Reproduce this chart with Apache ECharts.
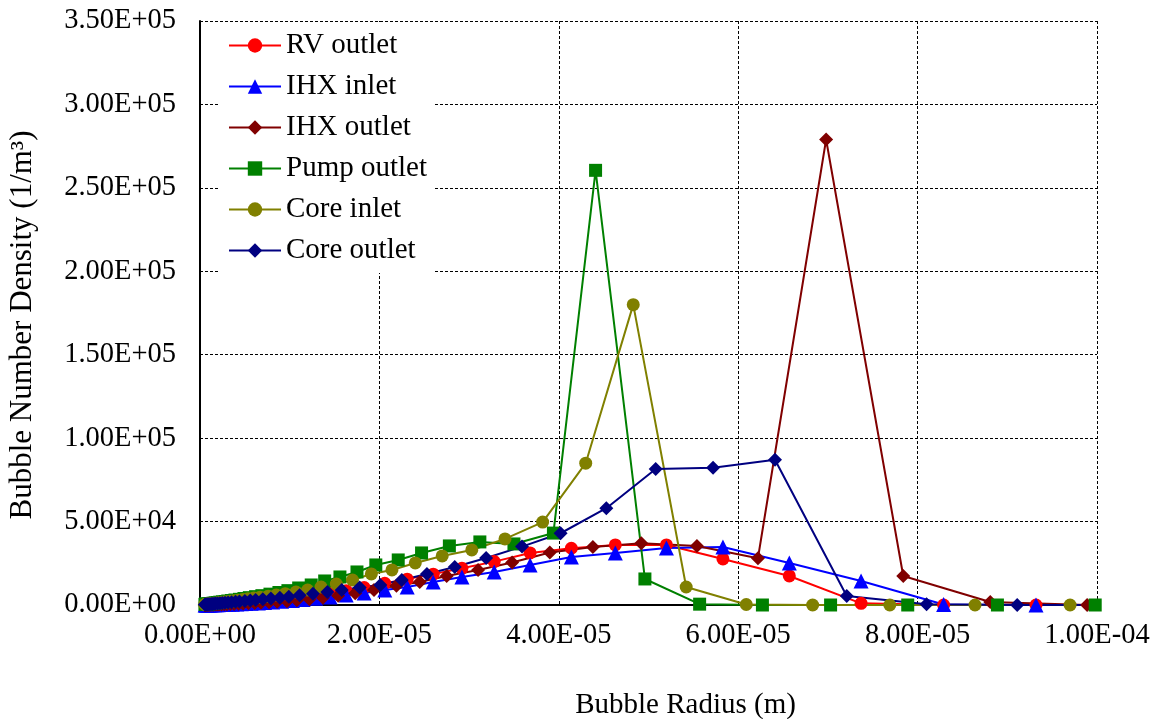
<!DOCTYPE html>
<html><head><meta charset="utf-8">
<script src="https://cdn.jsdelivr.net/npm/echarts@6/dist/echarts.min.js"></script>
<style>html,body{margin:0;padding:0;background:#fff}#c{width:1159px;height:719px}</style>
</head><body><div id="c"></div>
<script>
// Bubble radius (m) and number density (1/m^3)
const rvR = [5.7e-7,6.4e-7,7.1e-7,8.0e-7,9.0e-7,1.01e-6,1.14e-6,1.27e-6,1.43e-6,1.61e-6,1.81e-6,2.03e-6,2.29e-6,2.56e-6,2.9e-6,3.2e-6,3.6e-6,4.1e-6,4.6e-6,5.1e-6,5.7e-6,6.5e-6,7.2e-6,8.1e-6,9.1e-6,1.03e-5,1.15e-5,1.29e-5,1.45e-5,1.63e-5,1.83e-5,2.06e-5,2.31e-5,2.60e-5,2.92e-5,3.28e-5,3.68e-5,4.14e-5,4.63e-5,5.20e-5,5.83e-5,6.57e-5,7.37e-5,8.29e-5,9.32e-5];
const rvOutlet = [50,58,68,80,95,110,130,155,185,220,260,310,370,440,520,620,740,880,1050,1250,1500,1800,2150,2600,3100,3800,4600,5600,6900,8500,10500,13000,15500,18500,22000,26000,31200,34000,36000,36000,27600,17400,1000,0,0];
const ihxInR = rvR;
const ihxInlet = [24,29,35,42,50,60,73,88,105,130,155,185,225,270,330,400,480,580,700,850,1030,1250,1500,1800,2200,2700,3300,4000,4800,6000,7200,9000,10800,13800,16800,19800,24000,28800,31200,34200,34800,25200,14400,300,0];
const ihxOutR = [5.2e-7,5.9e-7,6.7e-7,7.5e-7,8.4e-7,9.5e-7,1.06e-6,1.19e-6,1.34e-6,1.5e-6,1.69e-6,1.9e-6,2.12e-6,2.4e-6,2.7e-6,3.0e-6,3.4e-6,3.8e-6,4.3e-6,4.8e-6,5.4e-6,6.1e-6,6.8e-6,7.7e-6,8.6e-6,9.7e-6,1.08e-5,1.22e-5,1.37e-5,1.54e-5,1.73e-5,1.94e-5,2.19e-5,2.45e-5,2.75e-5,3.10e-5,3.48e-5,3.90e-5,4.38e-5,4.92e-5,5.54e-5,6.22e-5,6.98e-5,7.84e-5,8.81e-5,9.89e-5];
const ihxOutlet = [60,70,80,92,105,120,135,155,175,200,230,260,300,350,400,460,530,620,720,840,980,1150,1350,1600,1900,2300,2900,3500,4400,5500,7000,9000,11500,13800,17400,21000,25500,31500,34800,37000,35400,28000,279000,17400,1800,0];
const pumpR = [5.5e-7,6.2e-7,6.9e-7,7.8e-7,8.7e-7,9.8e-7,1.10e-6,1.24e-6,1.39e-6,1.56e-6,1.75e-6,1.96e-6,2.2e-6,2.5e-6,2.8e-6,3.1e-6,3.5e-6,3.9e-6,4.4e-6,4.9e-6,5.5e-6,6.2e-6,6.9e-6,7.8e-6,8.8e-6,9.8e-6,1.10e-5,1.24e-5,1.39e-5,1.56e-5,1.75e-5,1.96e-5,2.21e-5,2.47e-5,2.78e-5,3.12e-5,3.50e-5,3.94e-5,4.41e-5,4.96e-5,5.57e-5,6.27e-5,7.03e-5,7.89e-5,8.89e-5,9.98e-5];
const pumpOutlet = [390,440,490,550,620,700,800,900,1000,1150,1300,1500,1700,1900,2100,2400,2700,3000,3400,3900,4400,5000,5600,6500,7500,8600,10200,12000,14400,16800,19800,24000,27000,31200,35400,37800,36600,43100,260500,15600,500,0,0,0,0,0];
const coreInR = [5.3e-7,6.0e-7,6.7e-7,7.5e-7,8.4e-7,9.5e-7,1.06e-6,1.2e-6,1.34e-6,1.5e-6,1.7e-6,1.9e-6,2.13e-6,2.4e-6,2.7e-6,3.0e-6,3.4e-6,3.8e-6,4.25e-6,4.8e-6,5.35e-6,6.0e-6,6.7e-6,7.6e-6,8.5e-6,9.5e-6,1.07e-5,1.20e-5,1.35e-5,1.52e-5,1.70e-5,1.91e-5,2.14e-5,2.40e-5,2.70e-5,3.03e-5,3.40e-5,3.82e-5,4.30e-5,4.83e-5,5.42e-5,6.09e-5,6.83e-5,7.69e-5,8.64e-5,9.70e-5];
const coreInlet = [350,390,440,490,550,620,700,800,900,1000,1100,1250,1400,1600,1800,2000,2300,2600,2900,3300,3700,4200,4700,5300,6000,6800,7800,9000,10800,12600,15000,18600,21000,25200,29400,33000,39600,49700,85000,180000,10800,300,0,0,0,0];
const coreOutR = [5.5e-7,6.1e-7,6.9e-7,7.8e-7,8.7e-7,9.8e-7,1.10e-6,1.24e-6,1.39e-6,1.56e-6,1.75e-6,1.97e-6,2.22e-6,2.49e-6,2.79e-6,3.13e-6,3.52e-6,3.96e-6,4.4e-6,5.0e-6,5.6e-6,6.2e-6,7.0e-6,7.9e-6,8.9e-6,9.9e-6,1.11e-5,1.26e-5,1.42e-5,1.58e-5,1.78e-5,2.01e-5,2.25e-5,2.53e-5,2.84e-5,3.19e-5,3.59e-5,4.02e-5,4.53e-5,5.08e-5,5.72e-5,6.41e-5,7.21e-5,8.10e-5,9.11e-5,1.023e-4];
const coreOutlet = [260,290,330,370,420,470,520,590,660,740,830,940,1050,1180,1330,1500,1700,1900,2100,2400,2700,3000,3400,3900,4400,5000,5800,6800,7800,9000,10500,12000,15000,18600,22800,28200,35000,43000,58000,81500,82300,87000,5400,400,0,0];

const seriesNames = ['RV outlet','IHX inlet','IHX outlet','Pump outlet','Core inlet','Core outlet'];
const FONT = 'Liberation Serif';

function sci(v){
  if (Math.abs(v) < 1e-12) return '0.00E+00';
  const s = v.toExponential(2);
  const parts = s.split('e');
  const sign = parts[1][0] === '-' ? '-' : '+';
  let d = parts[1].replace(/[+-]/,'');
  if (d.length < 2) d = '0' + d;
  return parts[0] + 'E' + sign + d;
}
function zip(xs, ys){ return xs.map((x,i)=>[x, ys[i]]); }

const defs = [
  {name: seriesNames[0], xs: rvR, ys: rvOutlet, color:'#ff0000', symbol:'circle', size:13},
  {name: seriesNames[1], xs: ihxInR, ys: ihxInlet, color:'#0000ff', symbol:'triangle', size:15},
  {name: seriesNames[2], xs: ihxOutR, ys: ihxOutlet, color:'#800000', symbol:'diamond', size:14},
  {name: seriesNames[3], xs: pumpR, ys: pumpOutlet, color:'#008000', symbol:'rect', size:13},
  {name: seriesNames[4], xs: coreInR, ys: coreInlet, color:'#808000', symbol:'circle', size:13},
  {name: seriesNames[5], xs: coreOutR, ys: coreOutlet, color:'#000080', symbol:'diamond', size:14}
];

const chart = echarts.init(document.getElementById('c'), null, {renderer:'canvas'});
chart.setOption({
  animation: false,
  backgroundColor: '#fff',
  grid: {left:200, right:62, top:21, bottom:114, containLabel:false, outerBoundsMode:'none'},
  legend: {
    orient:'vertical', left:220, top:22, itemWidth:52, itemHeight:18, itemGap:12,
    backgroundColor:'#fff', padding:[9,8,8,8],
    textStyle:{fontFamily:FONT, fontSize:29, color:'#000'},
    data: seriesNames
  },
  xAxis: {
    type:'value', min:0, max:1e-4, interval:2e-5,
    name:'Bubble Radius (m)', nameLocation:'middle', nameGap:86,
    nameTextStyle:{fontFamily:FONT, fontSize:29, color:'#000', padding:[0,0,0,74]},
    axisLine:{onZero:false, lineStyle:{color:'#000', width:2}},
    axisTick:{show:false},
    axisLabel:{formatter:sci, fontFamily:FONT, fontSize:28.5, color:'#000', margin:16},
    splitLine:{show:true, lineStyle:{color:'#000', width:1, type:[3,2]}}
  },
  yAxis: {
    type:'value', min:0, max:350000, interval:50000,
    name:'Bubble Number Density (1/m³)', nameLocation:'middle', nameGap:162, nameRotate:90,
    nameTextStyle:{fontFamily:FONT, fontSize:31, color:'#000', padding:[0,24,0,0]},
    axisLine:{onZero:false, lineStyle:{color:'#000', width:2}},
    axisTick:{show:false},
    axisLabel:{formatter:sci, fontFamily:FONT, fontSize:28.5, color:'#000', margin:24},
    splitLine:{show:true, lineStyle:{color:'#000', width:1, type:[3,2]}}
  },
  series: defs.map(d => ({
    name:d.name, type:'line', data: zip(d.xs, d.ys),
    symbol:d.symbol, symbolSize:d.size, showAllSymbol:true, clip:true,
    lineStyle:{color:d.color, width:2},
    itemStyle:{color:d.color},
    emphasis:{disabled:true}
  }))
});
</script>
</body></html>
